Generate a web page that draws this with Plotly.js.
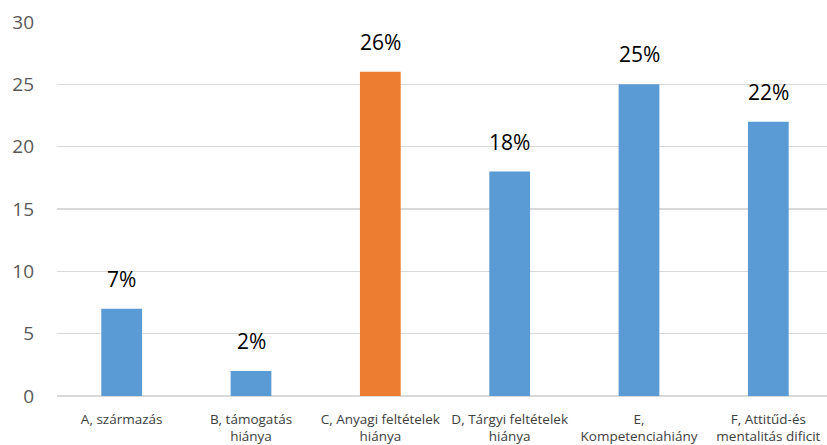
<!DOCTYPE html>
<html>
<head>
<meta charset="utf-8">
<script src="https://cdn.plot.ly/plotly-3.0.1.min.js"></script>
<style>html,body{margin:0;padding:0;overflow:hidden;background:#fff}</style>
</head>
<body>
<div id="chart"></div>
<script>
const categories = ["A, származás", "B, támogatás<br>hiánya", "C, Anyagi feltételek<br>hiánya", "D, Tárgyi feltételek<br>hiánya", "E,<br>Kompetenciahiány", "F, Attitűd-és<br>mentalitás dificit"];
const values = [7, 2, 26, 18, 25, 22];
const valueLabels = ["7%", "2%", "26%", "18%", "25%", "22%"];
const barColors = ["#5B9BD5", "#5B9BD5", "#ED7D31", "#5B9BD5", "#5B9BD5", "#5B9BD5"];
const yTicks = [0, 5, 10, 15, 20, 25, 30];

const trace = {
  type: "bar",
  x: categories,
  y: values,
  marker: {color: barColors},
  hoverinfo: "none"
};

const annotations = categories.map((c, i) => ({
  x: c, y: values[i], text: valueLabels[i], showarrow: false,
  xref: "x", yref: "y", yanchor: "bottom", yshift: 14,
  font: {family: "Open Sans, Liberation Sans, sans-serif", size: 21, color: "#000"}
}));

const layout = {
  width: 833, height: 445,
  margin: {l: 57, r: 0, t: 22, b: 49},
  paper_bgcolor: "#fff", plot_bgcolor: "#fff",
  bargap: 0.685,
  showlegend: false,
  font: {family: "Open Sans, Liberation Sans, sans-serif", color: "#595959"},
  xaxis: {
    type: "category",
    tickfont: {size: 13.5, color: "#404040"},
    showgrid: false, zeroline: false, showline: false, ticks: "",
    ticklabelstandoff: 13
  },
  yaxis: {
    range: [0, 30], tickvals: yTicks, ticktext: yTicks.map(String),
    tickfont: {size: 19, color: "#595959"},
    showgrid: true, gridcolor: "#D9D9D9", gridwidth: 1.5,
    zeroline: true, zerolinecolor: "#D9D9D9", zerolinewidth: 1.5,
    showline: false, ticks: "", ticklabelstandoff: 22
  },
  annotations: annotations
};

Plotly.newPlot("chart", [trace], layout, {displayModeBar: false, staticPlot: true});
</script>
</body>
</html>
